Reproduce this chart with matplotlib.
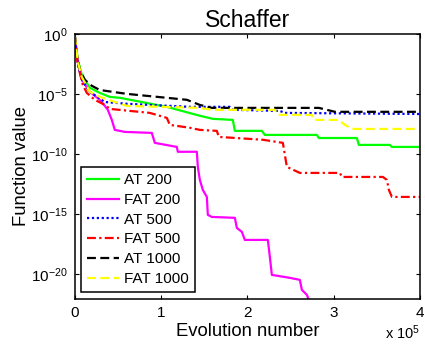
import matplotlib
matplotlib.use("Agg")
import matplotlib.pyplot as plt
from matplotlib.ticker import FixedLocator, NullLocator, FuncFormatter, LogFormatterSciNotation

plt.rcParams['font.family'] = ['Liberation Sans', 'DejaVu Sans']
plt.rcParams['mathtext.fontset'] = 'custom'
plt.rcParams['mathtext.rm'] = 'Liberation Sans'
plt.rcParams['mathtext.it'] = 'Liberation Sans:italic'
plt.rcParams['mathtext.bf'] = 'Liberation Sans:bold'

title = "Schaffer"
xlabel = "Evolution number"
ylabel = "Function value"

# AT 200
at200_x = [0, 3478, 8116, 17391, 28986, 40580, 52174, 106667, 144928, 160000, 183188, 185507,
           216812, 220290, 280580, 282899, 326957, 329275, 365217, 367536, 400000]
at200_y = [0.68, 6.8e-3, 3.8e-4, 3.2e-5, 1.2e-5, 5.6e-6, 4.7e-6, 8.3e-7, 1.5e-7, 8.3e-8, 6.8e-8, 8.3e-9,
           8.3e-9, 3.8e-9, 3.8e-9, 2.1e-9, 2.1e-9, 5.6e-10, 5.6e-10, 3.8e-10, 3.8e-10]

# FAT 200
fat200_x = [0, 3478, 8116, 17391, 28986, 34783, 38261, 42899, 46377, 57971, 89275, 92754, 118261,
            119420, 141449, 142609, 144928, 148406, 153043, 154203, 158841, 185507, 187826, 193623,
            197101, 223768, 226087, 228406, 249275, 260870, 263188, 268986, 271304]
fat200_y = [0.68, 4.7e-3, 1.5e-4, 1.5e-5, 3.2e-6, 1e-6, 4.7e-7, 6.8e-8, 1e-8, 6.8e-9, 5.6e-9, 8.3e-10,
            3.8e-10, 1.5e-10, 1.5e-10, 8.3e-12, 6.8e-13, 1e-13, 2.6e-14, 8.3e-16, 5.6e-16, 4.7e-16,
            6.8e-17, 3.2e-17, 6.8e-18, 6.8e-18, 2.6e-19, 8.3e-21, 4.7e-21, 3.2e-21, 4.7e-22, 1.8e-22, 6.8e-23]

# AT 500
at500_x = [0, 2319, 5797, 9275, 17391, 34783, 60290, 133333, 179710, 183188, 237681, 243478, 400000]
at500_y = [0.68, 1e-2, 6.8e-4, 1e-4, 1.5e-5, 2.1e-6, 1.5e-6, 8.3e-7, 8.3e-7, 4.7e-7, 3.8e-7, 2.6e-7, 2.1e-7]

# FAT 500
fat500_x = [0, 3478, 9275, 13913, 23188, 34783, 40580, 86957, 106667, 110145, 133333, 144928, 164638,
            166957, 217971, 241159, 243478, 245797, 260870, 307246, 309565, 357101, 361739, 364058,
            367536, 400000]
fat500_y = [0.68, 2.6e-3, 5.6e-5, 1.2e-5, 3.2e-6, 1.2e-6, 5.6e-7, 2.6e-7, 1e-7, 2.6e-8, 1.5e-8, 1e-8,
            8.3e-9, 2.6e-9, 1.5e-9, 8.3e-10, 8.3e-11, 8.3e-12, 2.6e-12, 2.6e-12, 1.2e-12, 1.2e-12,
            6.8e-13, 1e-13, 2.6e-14, 2.6e-14]

# AT 1000
at1000_x = [0, 2319, 5797, 11594, 19710, 28986, 60290, 106667, 129855, 144928, 158841, 282899, 301449, 400000]
at1000_y = [0.68, 1.8e-2, 1e-3, 1.5e-4, 4.7e-5, 2.1e-5, 1e-5, 4.7e-6, 3.2e-6, 1.2e-6, 6.8e-7, 6.8e-7,
            3.2e-7, 3.2e-7]

# FAT 1000
fat1000_x = [0, 3478, 8116, 17391, 28986, 60290, 144928, 158841, 231884, 235362, 274783, 277101,
             306087, 313043, 321159, 400000]
fat1000_y = [0.68, 4.7e-3, 2.6e-4, 1.5e-5, 5.6e-6, 1e-6, 6.8e-7, 4.7e-7, 4.7e-7, 1.8e-7, 1.8e-7,
             6.8e-8, 6.8e-8, 2.6e-8, 1.2e-8, 1.2e-8]

xticks = [0, 100000, 200000, 300000, 400000]
yticks = [1e-20, 1e-15, 1e-10, 1e-5, 1e0]

fig = plt.figure(figsize=(4.25, 3.49), dpi=100)
ax = fig.add_axes([0.176, 0.143, 0.812, 0.760])

lw = 1.6
ax.plot(at200_x, at200_y, color=(0, 1, 0), lw=lw, label="AT 200")
ax.plot(fat200_x, fat200_y, color=(1, 0, 1), lw=lw, label="FAT 200")
ax.plot(at500_x, at500_y, color=(0, 0, 1), lw=lw, dashes=(1, 1.2), label="AT 500")
ax.plot(fat500_x, fat500_y, color=(1, 0, 0), lw=lw, dashes=(4, 1.5, 1, 1.5), label="FAT 500")
ax.plot(at1000_x, at1000_y, color='black', lw=lw, dashes=(4, 2), label="AT 1000")
ax.plot(fat1000_x, fat1000_y, color=(1, 1, 0), lw=lw, dashes=(4, 2), label="FAT 1000")

ax.set_yscale('log')
ax.set_xlim(0, 400000)
ax.set_ylim(8e-23, 1)
ax.xaxis.set_major_locator(FixedLocator(xticks))
ax.xaxis.set_major_formatter(FuncFormatter(lambda v, p: "%d" % round(v / 1e5)))
ax.yaxis.set_major_locator(FixedLocator(yticks))
ax.yaxis.set_major_formatter(LogFormatterSciNotation())
ax.yaxis.set_minor_locator(NullLocator())
ax.xaxis.set_minor_locator(NullLocator())
ax.tick_params(direction='in', length=3, width=0.8, top=True, right=True, labelsize=11, pad=5)
for s in ax.spines.values():
    s.set_linewidth(1.1)

ax.set_title(title, fontsize=16.5, pad=5)
ax.set_xlabel(xlabel, fontsize=13.3, labelpad=2)
ax.set_ylabel(ylabel, fontsize=13.3, labelpad=1)
ax.text(1.0, -0.09, r"x 10$^{5}$", transform=ax.transAxes, ha='right', va='top', fontsize=10.5)

leg = ax.legend(loc='lower left', bbox_to_anchor=(0.017, 0.026), borderaxespad=0, fontsize=11,
                fancybox=False, edgecolor='black', framealpha=1, labelspacing=0.38,
                handlelength=2.1, handletextpad=0.35, borderpad=0.4)
leg.get_frame().set_linewidth(1.1)

fig.savefig("out.png", dpi=100)
